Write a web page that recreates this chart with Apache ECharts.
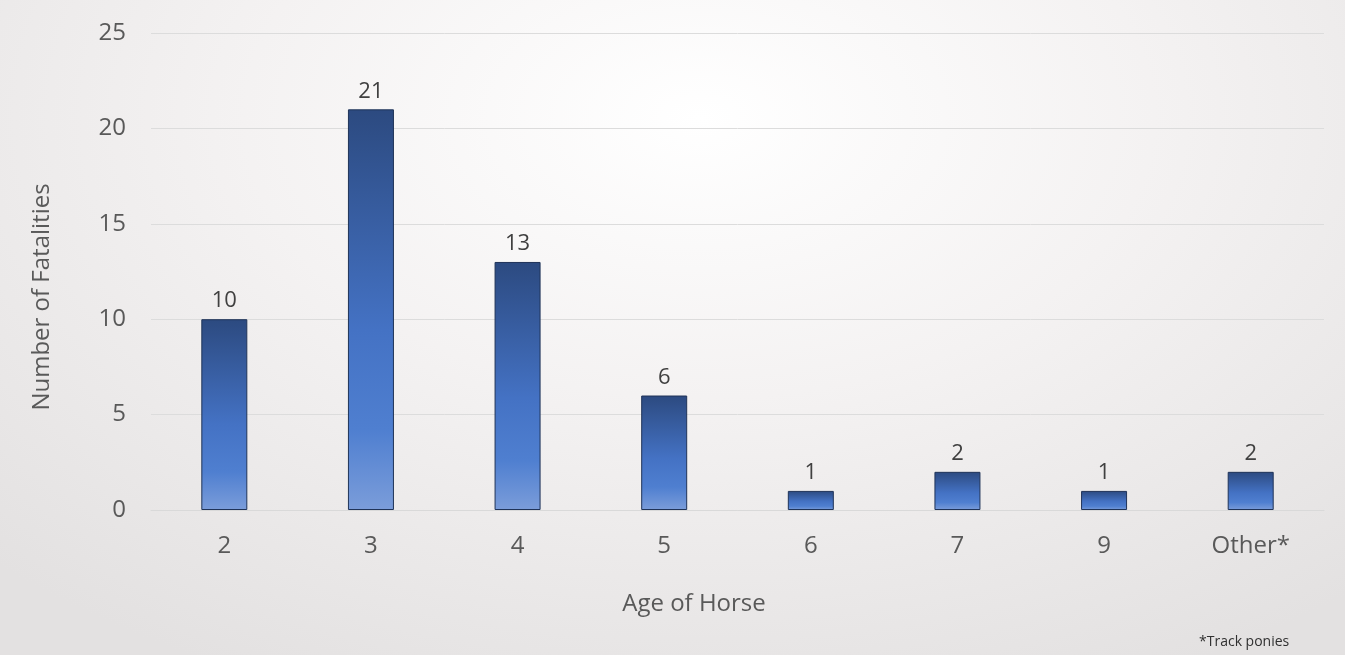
<!DOCTYPE html>
<html>
<head>
<meta charset="utf-8">
<script src="https://cdn.jsdelivr.net/npm/echarts@6/dist/echarts.min.js"></script>
<style>
  html, body { margin: 0; padding: 0; }
  #chart {
    width: 1345px; height: 655px;
    background: radial-gradient(ellipse 75% 95% at 52% 18%, #ffffff 0%, #f4f2f2 45%, #e3e1e1 100%);
  }
</style>
</head>
<body>
<div id="chart"></div>
<script>
    var ages = ['2', '3', '4', '5', '6', '7', '9', 'Other*'];
    var fatalities = [10, 21, 13, 6, 1, 2, 1, 2];
    var yTicks = [0, 5, 10, 15, 20, 25];

    var myChart = echarts.init(document.getElementById('chart'));

    var option = {
        backgroundColor: 'transparent',
        textStyle: { fontFamily: 'Open Sans' },
        grid: { left: 151, right: 21, top: 33, bottom: 145 },
        graphic: [
            {   // y axis title
                type: 'text',
                x: 42, y: 297,
                rotation: Math.PI / 2,
                style: { text: 'Number of Fatalities', fontSize: 24, fill: '#595959',
                         fontFamily: 'Open Sans', align: 'center', verticalAlign: 'middle' }
            },
            {   // x axis title
                type: 'text',
                x: 694, y: 604,
                style: { text: 'Age of Horse', fontSize: 24, fill: '#595959',
                         fontFamily: 'Open Sans', align: 'center', verticalAlign: 'middle' }
            },
            {
                type: 'text',
                x: 1199, y: 642,
                style: { text: '*Track ponies', fontSize: 14, fill: '#303030',
                         fontFamily: 'Open Sans', align: 'left', verticalAlign: 'middle' }
            }
        ],
        xAxis: {
            type: 'category',
            data: ages,
            axisLine: { lineStyle: { color: '#d9d9d9' } },
            axisTick: { show: false },
            axisLabel: { fontSize: 24, color: '#595959', margin: 24 }
        },
        yAxis: {
            type: 'value',
            min: yTicks[0],
            max: yTicks[yTicks.length - 1],
            interval: 5,
            axisLine: { show: false },
            axisTick: { show: false },
            axisLabel: { fontSize: 24, color: '#595959', margin: 25, align: 'right' },
            splitLine: { lineStyle: { color: '#dcdcdc' } }
        },
        series: [{
            type: 'bar',
            data: fatalities,
            barWidth: 46,
            itemStyle: {
                borderColor: '#1f3358',
                borderWidth: 1,
                color: new echarts.graphic.LinearGradient(0, 0, 0, 1, [
                    { offset: 0, color: '#2c4a80' },
                    { offset: 0.55, color: '#4472c4' },
                    { offset: 0.8, color: '#4f7fd0' },
                    { offset: 1, color: '#7b9dda' }
                ])
            },
            label: {
                show: true,
                position: 'top',
                distance: 7,
                fontSize: 22,
                color: '#404040'
            }
        }]
    };

    myChart.setOption(option);
</script>
</body>
</html>
